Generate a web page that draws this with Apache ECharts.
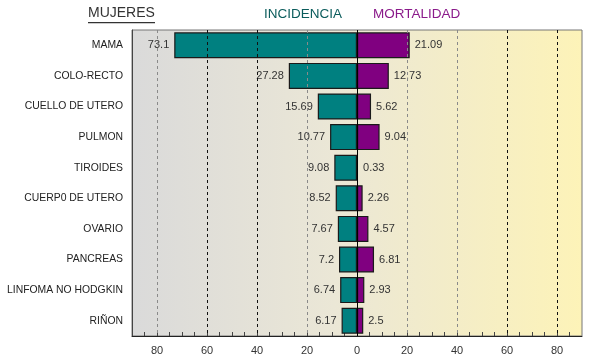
<!DOCTYPE html>
<html>
<head>
<meta charset="utf-8">
<script src="https://cdn.jsdelivr.net/npm/echarts@6/dist/echarts.min.js"></script>
<style>
html,body{margin:0;padding:0;background:#fff;}
#c{width:590px;height:361px;}
</style>
</head>
<body>
<div id="c"></div>
<script>
var categories = ['MAMA','COLO-RECTO','CUELLO DE UTERO','PULMON','TIROIDES','CUERP0 DE UTERO','OVARIO','PANCREAS','LINFOMA NO HODGKIN','RIÑON'];
var incidencia = [73.1, 27.28, 15.69, 10.77, 9.08, 8.52, 7.67, 7.2, 6.74, 6.17];
var mortalidad = [21.09, 12.73, 5.62, 9.04, 0.33, 2.26, 4.57, 6.81, 2.93, 2.5];
var gridTicks = [-80, -60, -40, -20, 20, 40, 60, 80];
var darkGrid = [-60, -40, 60, 80];

var chart = echarts.init(document.getElementById('c'), null, {renderer:'canvas'});
var font = 'Arial, "Liberation Sans", sans-serif';

var gridLines = gridTicks.map(function(v){
  var dark = darkGrid.indexOf(v) >= 0;
  return {xAxis: v, lineStyle: {color: dark ? '#111' : '#8a8a8a', type: [3,3], width: 1}};
});
gridLines.push({xAxis: 0, lineStyle: {color: '#000', type: 'solid', width: 1}});

chart.setOption({
  animation: false,
  textStyle: {fontFamily: font},
  graphic: [
    {type:'text', left: 88, top: 6, style:{text:'MUJERES', font:'14px ' + font, fill:'#333'}},
    {type:'rect', shape:{x:88, y:22, width:67, height:1.2}, style:{fill:'#333'}},
    {type:'text', left: 264, top: 7, style:{text:'INCIDENCIA', font:'13.5px ' + font, fill:'#0b5c5c'}},
    {type:'text', left: 373, top: 7, style:{text:'MORTALIDAD', font:'13.5px ' + font, fill:'#8a1a8a'}}
  ],
  grid: {
    left: 132, width: 450, top: 30, height: 306,
    show: true,
    borderColor: '#777',
    borderWidth: 1,
    backgroundColor: new echarts.graphic.LinearGradient(0,0,1,0,[
      {offset:0, color:'#dadada'},
      {offset:0.45, color:'#ebe7d6'},
      {offset:1, color:'#fdf3b8'}
    ])
  },
  xAxis: {
    type: 'value', min: -90, max: 90, interval: 5,
    axisLine: {show: true, onZero: false, lineStyle: {color:'#222', width: 1}},
    axisTick: {show: true, inside: true, length: 4, lineStyle: {color:'#444'}},
    splitLine: {show: false},
    axisLabel: {
      color: '#333', fontSize: 11, margin: 9, fontFamily: font,
      showMinLabel: false, showMaxLabel: false,
      formatter: function(v){ return (v % 20 === 0) ? String(Math.abs(v)) : ''; }
    }
  },
  yAxis: {
    type: 'category', data: categories, inverse: true,
    axisLine: {show: true, onZero: false, lineStyle: {color:'#444', width: 1}},
    axisTick: {show: false},
    axisLabel: {color:'#222', fontSize: 10.4, margin: 9, fontFamily: font}
  },
  series: [
    {
      name: 'INCIDENCIA', type: 'bar', barWidth: 26, barGap: '-100%',
      data: incidencia.map(function(v){ return -v; }),
      itemStyle: {color:'#008080', borderColor:'#1a1a1a', borderWidth: 1.2},
      label: {show: true, position: 'left', distance: 5, color:'#333', fontSize: 11, fontFamily: font,
        formatter: function(p){ return String(Math.abs(p.value)); }},
      markLine: {silent: true, symbol: 'none', label: {show: false}, data: gridLines}
    },
    {
      name: 'MORTALIDAD', type: 'bar', barWidth: 26, barGap: '-100%',
      data: mortalidad,
      itemStyle: {color:'#800080', borderColor:'#1a1a1a', borderWidth: 1.2},
      label: {show: true, position: 'right', distance: 5, color:'#333', fontSize: 11, fontFamily: font}
    }
  ]
});
</script>
</body>
</html>
